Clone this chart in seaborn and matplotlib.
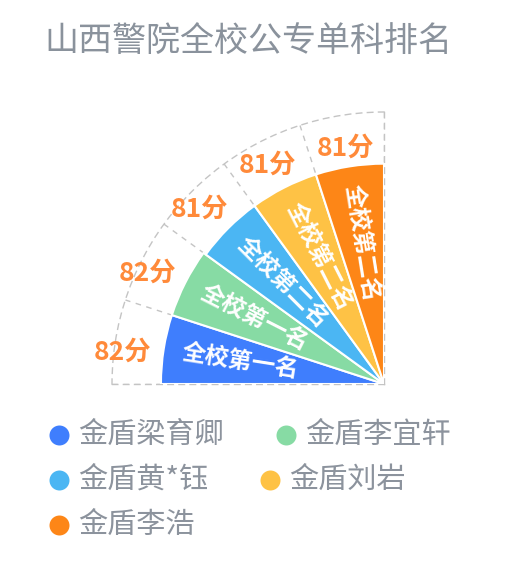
import numpy as np
import matplotlib
matplotlib.use('Agg')
import matplotlib.pyplot as plt
import seaborn as sns

# 数据
title = '山西警院全校公专单科排名'
names = ['金盾梁育卿', '金盾李宜轩', '金盾黄*钰', '金盾刘岩', '金盾李浩']
scores = [82, 82, 81, 81, 81]
ranks = ['全校第一名', '全校第一名', '全校第二名', '全校第二名', '全校第二名']
colors = ['#3F7EFD', '#87DBA4', '#4BB6F3', '#FEC245', '#FD8617']

sns.set_theme(style='white')
plt.rcParams['font.family'] = ['Noto Sans CJK SC', 'DejaVu Sans']
palette = sns.color_palette(colors)

W, H = 513, 567
fig = plt.figure(figsize=(W / 100, H / 100), dpi=100)
renderer = fig.canvas.get_renderer()

# 扇形玫瑰图 (四分之一圆)
cx, cy, R = 384, 384, 272
ax = fig.add_axes([(cx - R) / W, (H - cy) / H, R / W, R / H], projection='polar')
ax.set_thetamin(90)
ax.set_thetamax(180)
ax.set_ylim(0, 100)
ax.patch.set_alpha(0)

n = len(scores)
step = 90 / n
theta_deg = 180 - step / 2 - step * np.arange(n)
theta = np.deg2rad(theta_deg)
ax.bar(theta, scores, width=np.deg2rad(step), color=palette,
       edgecolor='white', linewidth=1.5, zorder=3)

ax.set_thetagrids(np.arange(90, 181, step), labels=[''] * (n + 1))
ax.set_yticks([])
ax.grid(axis='x', color='#c4c4c4', linestyle=(0, (4, 4)), linewidth=1)
ax.grid(axis='y', visible=False)
for sp in ax.spines.values():
    sp.set_color('#c4c4c4')
    sp.set_linestyle((0, (4, 4)))
    sp.set_linewidth(1)

# 外部分数标签
gap = 11
for t, d, s in zip(theta, theta_deg, scores):
    txt = ax.annotate(f'{s}分', xy=(t, s), xytext=(0, 0), textcoords='offset pixels',
                      ha='center', va='center', fontsize=19, fontweight='bold',
                      color='#FF8A3A', zorder=5)
    bb = txt.get_window_extent(renderer=renderer)
    ext = bb.width / 2 * abs(np.cos(t)) + bb.height / 2 * abs(np.sin(t))
    txt.set_position(((gap + ext) * np.cos(t), (gap + ext) * np.sin(t) - 10))

# 内部排名标签
for t, d, s, r in zip(theta, theta_deg, scores, ranks):
    ax.text(t, s * 0.65, r, ha='center', va='center', rotation=d - 180,
            rotation_mode='anchor', fontsize=17, fontweight='bold',
            color='white', zorder=5)

# 标题和图例 (像素坐标)
lax = fig.add_axes([0, 0, 1, 1])
lax.set_xlim(0, W)
lax.set_ylim(H, 0)
lax.axis('off')
lax.patch.set_alpha(0)

lax.text(44, 41, title, ha='left', va='center', fontsize=24.5, color='#8A929C')

x0, x, y = 49, 49, 435
for i, (nm, c) in enumerate(zip(names, palette)):
    t = lax.text(0, 0, nm, fontsize=21, color='#8C939D')
    w = t.get_window_extent(renderer=renderer).width
    if x > x0 and x + 29 + w > 490:
        x = x0
        y += 45
    lax.scatter([x + 10], [y], s=207, color=c, linewidths=0)
    t.set_position((x + 29, y))
    t.set_va('center')
    x += 29 + w + 52

fig.savefig('out.png', dpi=100)
